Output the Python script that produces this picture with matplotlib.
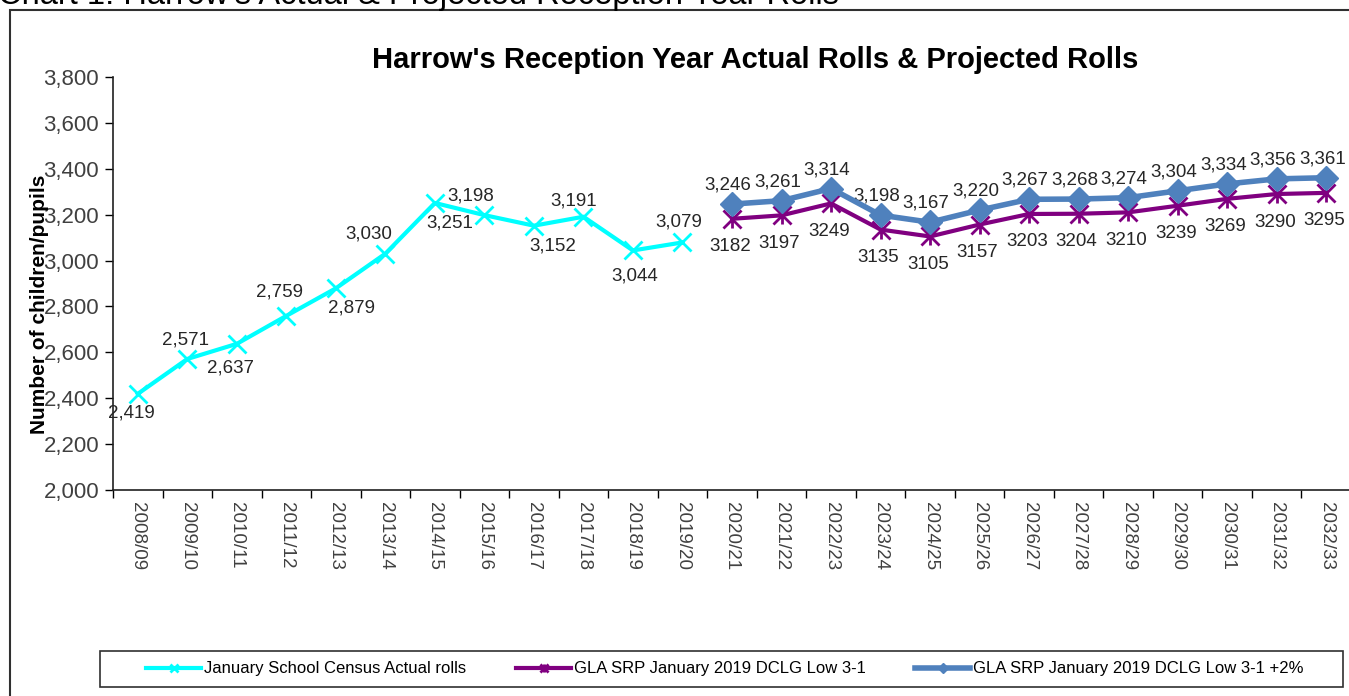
import numpy as np
import matplotlib
matplotlib.use("Agg")
import matplotlib.pyplot as plt
from matplotlib.patches import Rectangle
from matplotlib.path import Path

plt.rcParams['font.family'] = ['Liberation Sans', 'DejaVu Sans']

years = ["2008/09", "2009/10", "2010/11", "2011/12", "2012/13", "2013/14", "2014/15",
         "2015/16", "2016/17", "2017/18", "2018/19", "2019/20", "2020/21", "2021/22",
         "2022/23", "2023/24", "2024/25", "2025/26", "2026/27", "2027/28", "2028/29",
         "2029/30", "2030/31", "2031/32", "2032/33"]

actual = [2419, 2571, 2637, 2759, 2879, 3030, 3251, 3198, 3152, 3191, 3044, 3079]
gla_low = [3182, 3197, 3249, 3135, 3105, 3157, 3203, 3204, 3210, 3239, 3269, 3290, 3295]
gla_low_2pc = [3246, 3261, 3314, 3198, 3167, 3220, 3267, 3268, 3274, 3304, 3334, 3356, 3361]

# label offsets (pixels) for the actual series
actual_offsets = [(-6, -19), (-2, 19), (-6, -24), (-7, 24), (16, -20), (-17, 20),
                  (15, -20), (-14, 19), (19, -20), (-10, 16), (2, -26), (-4, 20)]

W, H = 1349, 696
fig = plt.figure(figsize=(W / 100, H / 100), dpi=100)

ax = fig.add_axes([113 / W, 1 - 490 / H, (1351 - 113) / W, (490 - 77) / H])

x_act = np.arange(len(actual))
x_proj = np.arange(len(actual), len(actual) + len(gla_low))

star = Path([(0, -1), (0, 1), (-1, -1), (1, 1), (-1, 1), (1, -1)],
            [Path.MOVETO, Path.LINETO, Path.MOVETO, Path.LINETO, Path.MOVETO, Path.LINETO])

ax.plot(x_act, actual, color='#00FFFF', lw=3, marker='x', ms=13, mew=2,
        label='January School Census Actual rolls', zorder=3)
ax.plot(x_proj, gla_low, color='#800080', lw=3, marker=star, ms=13, mew=2,
        label='GLA SRP January 2019 DCLG Low 3-1', zorder=3)
ax.plot(x_proj, gla_low_2pc, color='#4F81BD', lw=4, marker='D', ms=12,
        label='GLA SRP January 2019 DCLG Low 3-1 +2%', zorder=4)

lab_col = '#262626'
for xi, v, (dx, dy) in zip(x_act, actual, actual_offsets):
    ax.annotate(f"{v:,}", (xi, v), xytext=(dx, dy), textcoords='offset pixels',
                ha='center', va='center', fontsize=13.5, color=lab_col)
for xi, v in zip(x_proj, gla_low_2pc):
    ax.annotate(f"{v:,}", (xi, v), xytext=(-4, 19), textcoords='offset pixels',
                ha='center', va='center', fontsize=13.5, color=lab_col)
for xi, v in zip(x_proj, gla_low):
    ax.annotate(f"{v}", (xi, v), xytext=(-2, -28), textcoords='offset pixels',
                ha='center', va='center', fontsize=13.5, color=lab_col)

ax.set_xlim(-0.5, len(years) - 0.5)
ax.set_ylim(2000, 3800)
ax.set_yticks(np.arange(2000, 3801, 200))
ax.set_yticklabels([f"{t:,}" for t in range(2000, 3801, 200)], fontsize=16, color='#404040')
ax.set_xticks(np.arange(len(years)))
ax.set_xticklabels(years, rotation=-90, fontsize=13.5, color='#404040', va='top')
ax.set_xticks(np.arange(len(years) + 1) - 0.5, minor=True)
ax.tick_params(axis='x', which='major', length=0, pad=9)
ax.tick_params(axis='x', which='minor', length=6, width=1, direction='out')
ax.tick_params(axis='y', length=6, width=1, direction='out', pad=4)
for s in ['top', 'right']:
    ax.spines[s].set_visible(False)
for s in ['left', 'bottom']:
    ax.spines[s].set_color('#202020')
    ax.spines[s].set_linewidth(1.2)

fig.text(755 / W, 1 - 60 / H, "Harrow's Reception Year Actual Rolls & Projected Rolls",
         ha='center', va='center', fontsize=21, fontweight='bold', color='black')
fig.text(40 / W, 1 - 304 / H, "Number of children/pupils", rotation=90,
         ha='center', va='center', fontsize=15, fontweight='bold', color='black')
fig.text(-2 / W, 1 - 4 / H, "Chart 1: Harrow's Actual & Projected Reception Year Rolls",
         ha='left', va='baseline', fontsize=23.5, color='black')

# outer frame and legend box
fig.patches.append(Rectangle((10 / W, -0.1), 1.2, 1.1 - 10 / H, transform=fig.transFigure,
                             fill=False, edgecolor='#303030', lw=1.5))
fig.patches.append(Rectangle((100 / W, 1 - 687 / H), (1343 - 100) / W, 36 / H,
                             transform=fig.transFigure, fill=False, edgecolor='#303030', lw=1.2))

leg = ax.legend(loc='center', bbox_to_anchor=(725 / W, 1 - 669 / H), bbox_transform=fig.transFigure,
                ncol=3, frameon=False, fontsize=12, handlelength=3.3, handletextpad=0.15,
                columnspacing=3.0, markerscale=0.45)

fig.savefig("out.png", dpi=100)
